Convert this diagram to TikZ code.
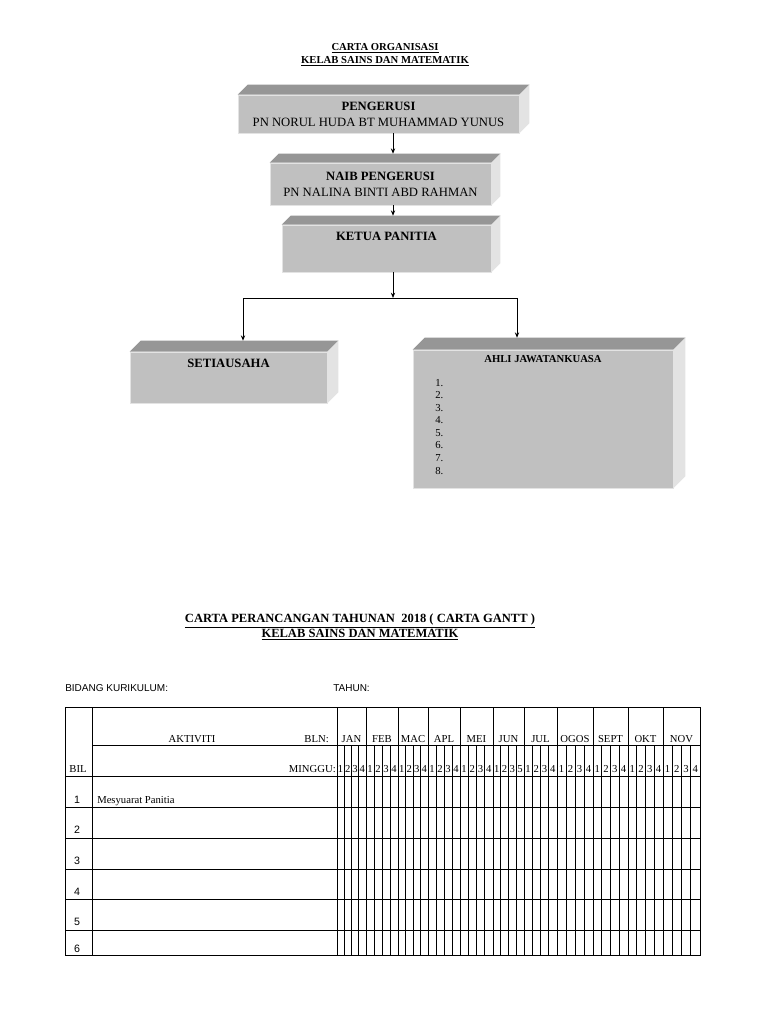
\documentclass[tikz,border=0pt]{standalone}
\usepackage{fontspec}
\setmainfont{Liberation Serif}
\newfontfamily\arialfont{Liberation Sans}
\usetikzlibrary{
	positioning,
	calc,
	arrows.meta
}
\definecolor{BoxFront}{RGB}{192,192,192}
\definecolor{BoxTop}{RGB}{150,150,150}
\definecolor{BoxSide}{RGB}{227,227,227}

\begin{document}
\begin{tikzpicture}[
	x=0.75pt,y=-0.75pt,
	front/.style={fill=BoxFront,draw=BoxSide,line width=.4pt,inner sep=0pt,align=center,font=\fontsize{9.5}{12}\selectfont},
	boxtitle/.style={font=\fontsize{9.5}{12}\selectfont\bfseries},
	arr/.style={-{Stealth[length=4pt,width=3.2pt]},line width=.6pt},
	grid/.style={line width=.6pt},
	tab/.style={font=\fontsize{8}{9}\selectfont,inner sep=0pt},
	sans/.style={font=\arialfont\fontsize{7.5}{9}\selectfont,inner sep=0pt}
	]
				
				\useasboundingbox[fill=white] (0,0) rectangle (768,1024);
				
				% titles
				\node[
				align=center,
				font=\fontsize{8}{9.75}\selectfont\bfseries
				]
				(T1) at (385,55)
				{\underline{CARTA ORGANISASI}\\\underline{KELAB SAINS DAN MATEMATIK}};
				
				\node[
				align=center,
				font=\fontsize{9.4}{11.25}\selectfont\bfseries
				]
				(T2) at (360,627)
				{\underline{CARTA PERANCANGAN TAHUNAN\ \ 2018 ( CARTA GANTT )}\\\underline{KELAB SAINS DAN MATEMATIK}};
				
				% org chart boxes
				\node[
				front,
				minimum width=210.75pt,
				minimum height=28.5pt
				]
				(PG) at (378.5,114)
				{\textbf{PENGERUSI}\\PN NORUL HUDA BT MUHAMMAD YUNUS};
				
				\node[
				front,
				minimum width=165.75pt,
				minimum height=31.5pt
				]
				(NP) at (380.5,184)
				{\textbf{NAIB PENGERUSI}\\PN NALINA BINTI ABD RAHMAN};
				
				\node[
				front,
				minimum width=156.75pt,
				minimum height=35.25pt
				]
				(KP) at (386.5,248.5)
				{};
				
				\node[
				front,
				minimum width=147.75pt,
				minimum height=38.25pt
				]
				(SU) at (228.5,377.5)
				{};
				
				\node[
				front,
				minimum width=195pt,
				minimum height=103.5pt
				]
				(AJ) at (543,419)
				{};
				
				\foreach \b/\d in {PG/10,NP/9,KP/9,SU/11,AJ/12} {
					\fill[BoxTop] (\b.north west) -- ++(\d,-\d) -- ($(\b.north east)+(\d,-\d)$) -- (\b.north east) -- cycle;
					\fill[BoxSide] (\b.north east) -- ++(\d,-\d) -- ($(\b.south east)+(\d,-\d)$) -- (\b.south east) -- cycle;
					\coordinate (top\b) at ($(\b.north)+(0,-\d)$);
				}
				
				\node[boxtitle, below=2pt of KP.north] (KPt) {KETUA PANITIA};
				\node[boxtitle, below=2pt of SU.north] (SUt) {SETIAUSAHA};
				\node[
				font=\fontsize{8}{9}\selectfont\bfseries,
				below=1pt of AJ.north
				]
				(AJt)
				{AHLI JAWATANKUASA};
				
				\node[
				align=left,
				anchor=north west,
				inner sep=0pt,
				font=\fontsize{8}{9.4}\selectfont
				]
				(AJl) at (435,379)
				{1.\\2.\\3.\\4.\\5.\\6.\\7.\\8.};
				
				% connectors
				\coordinate (ax) at (393,0);
				\coordinate (J) at (393,298);
				\coordinate (JL) at (243,298);
				\coordinate (JR) at (517,298);
				
				\draw[arr] (PG.south -| ax) -- (topNP -| ax);
				\draw[arr] (NP.south -| ax) -- (topKP -| ax);
				\draw[arr] (KP.south -| J) -- (J);
				\draw[line width=.6pt] (JL) -- (JR);
				\draw[arr] (JL) -- (topSU -| JL);
				\draw[arr] (JR) -- (topAJ -| JR);
				
				% gantt table
				\node[sans, anchor=west] (BK) at (65,688) {BIDANG KURIKULUM:};
				\node[sans, anchor=west] (TH) at (333,688) {TAHUN:};
				
				\draw[grid] (65,707) rectangle (700,955);
				\draw[grid] (92,707) -- (92,955);
				\draw[grid] (337,707) -- (337,955);
				\draw[grid] (92,745) -- (700,745);
				\foreach \y in {776,807,838,869,899,930}
					\draw[grid] (65,\y) -- (700,\y);
				
				\node[tab] (AK) at (192,739) {AKTIVITI};
				\node[tab, anchor=east] (BLN) at (329,739) {BLN:};
				\node[tab] (BIL) at (78,769) {BIL};
				\node[tab, anchor=east] (MG) at (336,769) {MINGGU:};
				
				\foreach \a/\b/\m/\wk [count=\i] in {337/366/JAN/{1,2,3,4},366/398/FEB/{1,2,3,4},398/428/MAC/{1,2,3,4},428/460/APL/{1,2,3,4},460/493/MEI/{1,2,3,4},493/524/JUN/{1,2,3,5},524/557/JUL/{1,2,3,4},557/593/OGOS/{1,2,3,4},593/628/SEPT/{1,2,3,4},628/663/OKT/{1,2,3,4},663/700/NOV/{1,2,3,4}} {
					\draw[grid] (\b,707) -- (\b,955);
					\node[tab] (M\i) at ({(\a+\b)/2},739) {\m};
					\foreach \w [count=\k] in \wk {
						\draw[grid] ({\a+\k*(\b-\a)/4},745) -- ({\a+\k*(\b-\a)/4},955);
						\node[tab] (W\i-\k) at ({\a+(\k-.5)*(\b-\a)/4},769) {\w};
					}
				}
				
				\foreach \n/\y in {1/800,2/830,3/861,4/892,5/922,6/949}
					\node[sans, font=\arialfont\fontsize{8}{9}\selectfont] (N\n) at (77,\y) {\n};
				
				\node[tab, anchor=west] (A1) at (97,801) {Mesyuarat Panitia};
				
\end{tikzpicture}
\end{document}
